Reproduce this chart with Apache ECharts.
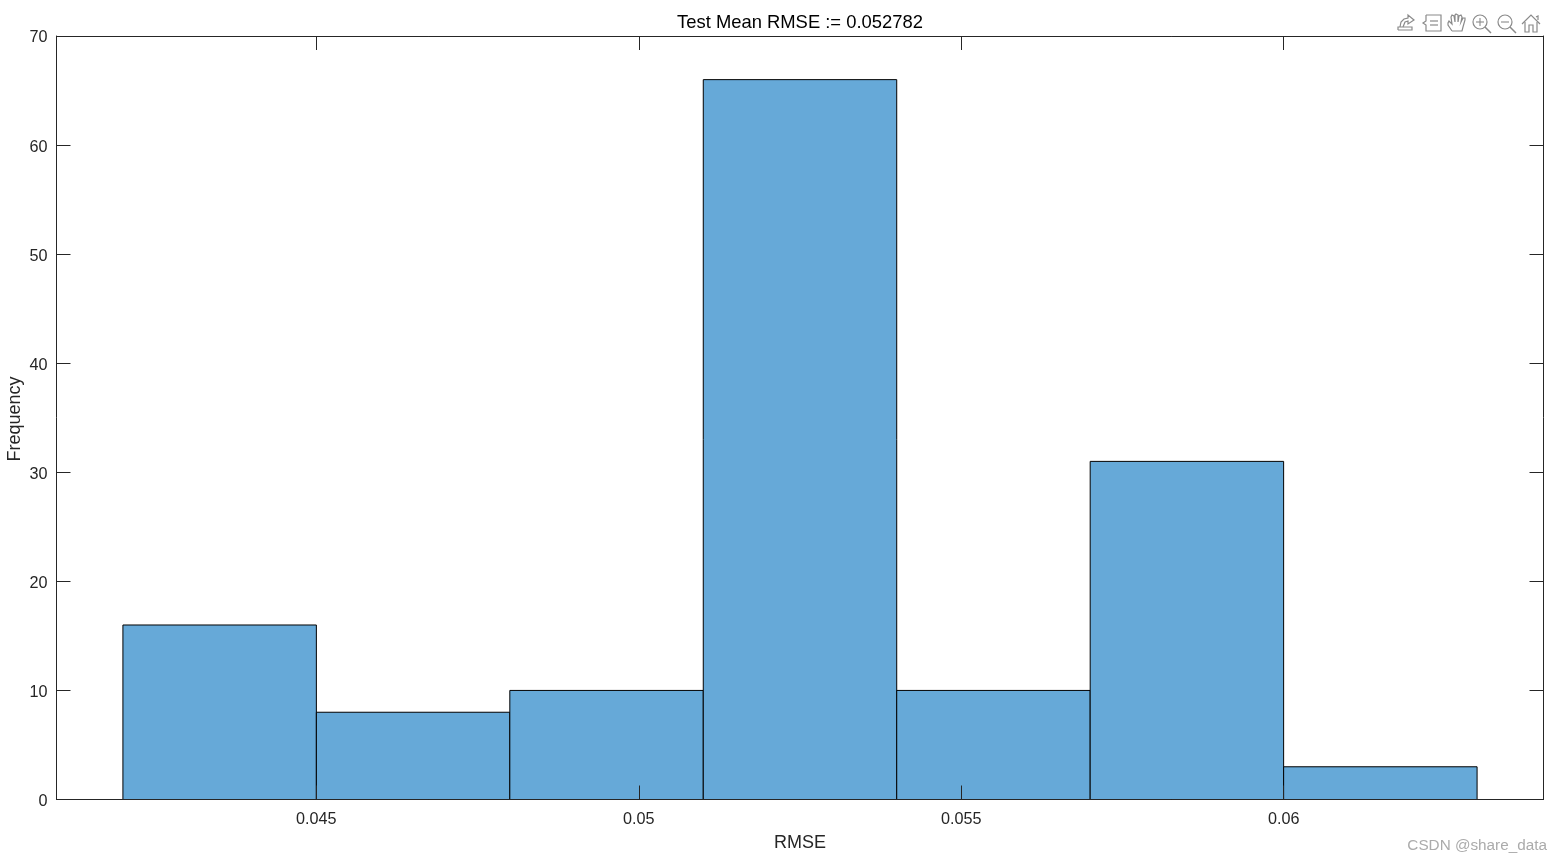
<!DOCTYPE html>
<html>
<head>
<meta charset="utf-8">
<style>html,body{margin:0;padding:0;background:#fff}#c{width:1561px;height:861px}</style>
<script src="https://cdn.jsdelivr.net/npm/echarts@6/dist/echarts.min.js"></script>
</head>
<body>
<div id="c"></div>
<script>
const binEdges = [0.042, 0.045, 0.048, 0.051, 0.054, 0.057, 0.060, 0.063];
const counts = [16, 8, 10, 66, 10, 31, 3];
const xTicks = [0.045, 0.05, 0.055, 0.06];
const xTickLabels = ['0.045', '0.05', '0.055', '0.06'];
const yTicks = [0, 10, 20, 30, 40, 50, 60, 70];
const titleText = 'Test Mean RMSE := 0.052782';
const xName = 'RMSE';
const yName = 'Frequency';
const watermark = 'CSDN @share_data';

const FONT = '"Liberation Sans", Arial, sans-serif';
const INK = '#262626';
const gridL = 56.5, gridR = 1543.5, gridT = 36, gridB = 799.5;
const xMin = 0.04097, xMax = 0.06403;

const rows = counts.map((c, i) => [binEdges[i], binEdges[i + 1], c]);

const axisBase = {
  axisLine: { show: true, onZero: false, lineStyle: { color: INK, width: 1 } },
  splitLine: { show: false }
};
function xAxisDef(position, showLabel) {
  return Object.assign({}, axisBase, {
    type: 'value', position, min: xMin, max: xMax, z: 5,
    axisTick: { show: true, inside: true, length: 14, customValues: xTicks, lineStyle: { color: INK, width: 1 } },
    axisLabel: {
      show: showLabel, customValues: xTicks, color: INK, fontFamily: FONT, fontSize: 16.2, margin: 12,
      formatter: v => xTickLabels[xTicks.findIndex(t => Math.abs(t - v) < 1e-9)]
    }
  });
}
function yAxisDef(position, showLabel) {
  return Object.assign({}, axisBase, {
    type: 'value', position, min: yTicks[0], max: yTicks[yTicks.length - 1], interval: 10, z: 5,
    axisTick: { show: true, inside: true, length: 14, lineStyle: { color: INK, width: 1 } },
    axisLabel: {
      show: showLabel, margin: 9, formatter: '{a|{value}}',
      rich: { a: { color: INK, fontFamily: FONT, fontSize: 16.2, padding: [4, 0, 0, 0] } }
    }
  });
}

const ICON = '#8a8a8a';
function polys(x, y, lists) {
  return {
    type: 'group', x, y,
    children: lists.map(points => ({
      type: 'polyline', shape: { points },
      style: { fill: 'none', stroke: ICON, lineWidth: 1.2 }
    }))
  };
}
function lens(x, y, plus) {
  const kids = [
    { type: 'circle', shape: { cx: 8, cy: 8, r: 7 }, style: { fill: 'none', stroke: ICON, lineWidth: 1.2 } },
    { type: 'line', shape: { x1: 13, y1: 13, x2: 19, y2: 19 }, style: { stroke: ICON, lineWidth: 1.5 } },
    { type: 'line', shape: { x1: 4, y1: 8, x2: 12, y2: 8 }, style: { stroke: ICON, lineWidth: 1.1 } }
  ];
  if (plus) kids.push({ type: 'line', shape: { x1: 8, y1: 4, x2: 8, y2: 12 }, style: { stroke: ICON, lineWidth: 1.1 } });
  return { type: 'group', x, y, children: kids };
}
const icons = [
  polys(1397, 14, [
    [[1, 16], [15, 16], [15, 13], [1, 13], [1, 16]],
    [[3, 13], [4, 8], [7, 5], [11, 4], [11, 1], [17, 6], [11, 10], [11, 7], [8, 8], [6, 13]]
  ]),
  polys(1423, 14, [
    [[3, 1], [18, 1], [18, 17], [3, 17], [3, 11], [0, 9], [3, 7], [3, 1]],
    [[7, 7], [15, 7]],
    [[7, 11], [15, 11]]
  ]),
  polys(1447, 13, [
    [[5, 18], [3, 15], [1, 12], [1, 10], [2, 8], [5, 11], [4, 4], [5, 2], [7, 3], [8, 9], [8, 2], [9, 1], [11, 2], [11, 9], [12, 3], [14, 2], [15, 4], [14, 9], [16, 5], [18, 5], [18, 7], [16, 14], [15, 18], [5, 18]]
  ]),
  lens(1472, 14, true),
  lens(1497, 14, false),
  polys(1522, 14, [
    [[0, 10], [9, 1], [18, 10]],
    [[3, 8], [3, 18], [7, 18], [7, 11], [11, 11], [11, 18], [15, 18], [15, 8]],
    [[14, 3], [16, 2], [16, 6]]
  ])
];

const chart = echarts.init(document.getElementById('c'), null, { renderer: 'canvas' });
chart.setOption({
  animation: false,
  backgroundColor: '#ffffff',
  textStyle: { fontFamily: FONT },
  grid: { left: gridL, top: gridT, width: gridR - gridL, height: gridB - gridT, containLabel: false },
  xAxis: [xAxisDef('bottom', true), xAxisDef('top', false)],
  yAxis: [yAxisDef('left', true), yAxisDef('right', false)],
  series: [{
    type: 'custom',
    coordinateSystem: 'cartesian2d',
    data: rows,
    encode: { x: [0, 1], y: 2 },
    renderItem(params, api) {
      const a = api.coord([api.value(0), api.value(2)]);
      const b = api.coord([api.value(1), 0]);
      return {
        type: 'rect',
        shape: { x: a[0], y: a[1], width: b[0] - a[0], height: b[1] - a[1] },
        style: { fill: '#66a9d8', stroke: '#000000', lineWidth: 1 }
      };
    }
  }],
  graphic: [
    { type: 'text', x: 800, y: 23, style: { text: titleText, fill: '#000', font: '18.4px ' + FONT, align: 'center', verticalAlign: 'middle' } },
    { type: 'text', x: 800, y: 843, style: { text: xName, fill: INK, font: '18px ' + FONT, align: 'center', verticalAlign: 'middle' } },
    { type: 'text', x: 15.5, y: 419, rotation: Math.PI / 2, style: { text: yName, fill: INK, font: '18px ' + FONT, align: 'center', verticalAlign: 'middle' } },
    { type: 'text', x: 1547, y: 846, style: { text: watermark, fill: '#ababab', font: '15.3px ' + FONT, align: 'right', verticalAlign: 'middle' } },
    ...icons
  ]
});
</script>
</body>
</html>
